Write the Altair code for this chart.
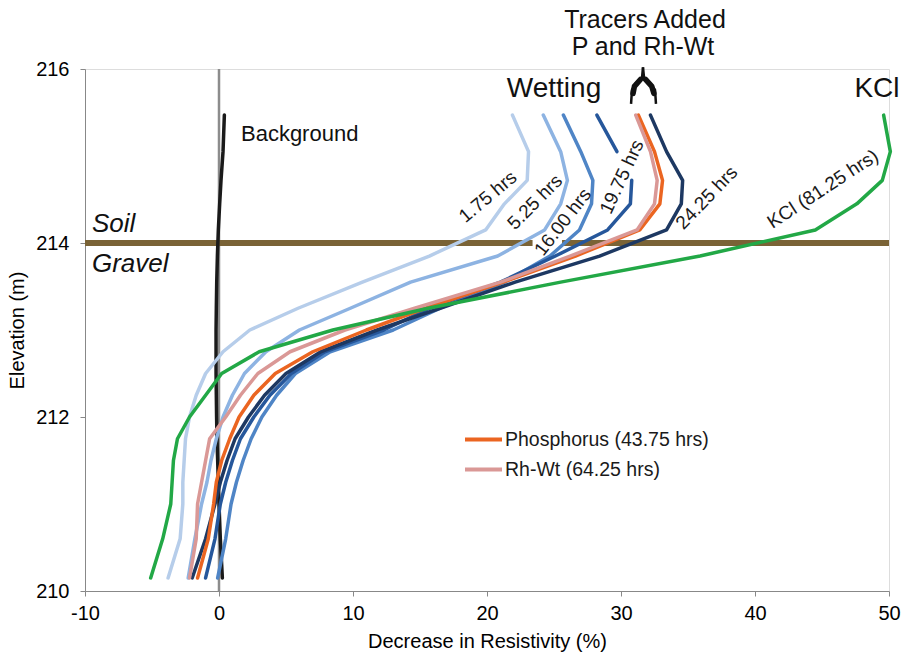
import altair as alt
import pandas as pd

# ---------------- data ----------------
elevation = [215.47, 215.05, 214.72, 214.45, 214.15, 213.85, 213.55, 213.25, 213.0,
             212.75, 212.5, 212.25, 212.0, 211.75, 211.5, 211.25, 211.0, 210.6, 210.15]

background = [0.4, 0.3, 0.15, 0.05, -0.05, -0.12, -0.17, -0.2, -0.22, -0.22, -0.22,
              -0.2, -0.18, -0.15, -0.1, -0.05, 0.0, 0.1, 0.25]
wet_175 = [21.9, 23.1, 23.0, 21.3, 19.9, 15.7, 10.7, 5.9, 2.3, 0.3, -1.0, -1.7, -2.2,
           -2.5, -2.6, -2.7, -2.7, -2.9, -3.8]
wet_525 = [24.2, 25.5, 26.0, 25.5, 24.3, 20.8, 14.3, 9.8, 6.0, 3.5, 1.9, 1.0, 0.3,
           -0.2, -0.6, -0.9, -1.3, -1.8, -2.3]
wet_1600 = [25.7, 27.0, 27.9, 27.8, 26.9, 24.7, 21.3, 16.5, 13.0, 8.3, 5.7, 4.3, 3.2,
            2.4, 1.8, 1.3, 0.9, 0.5, -0.1]
wet_1975 = [28.2, 29.7, 30.8, 30.7, 29.0, 25.1, 21.0, 15.7, 12.3, 7.9, 5.4, 3.8, 2.6,
            1.6, 1.0, 0.5, 0.1, -0.3, -1.0]
wet_2425 = [32.2, 33.4, 34.6, 34.5, 33.4, 28.4, 22.1, 16.5, 11.8, 7.6, 5.0, 3.4, 2.2,
            1.2, 0.6, 0.1, -0.3, -1.0, -2.0]
phosphorus = [31.3, 32.5, 33.1, 32.9, 31.4, 26.6, 21.2, 15.4, 11.0, 7.0, 4.2, 2.6, 1.5,
              0.8, 0.2, -0.2, -0.4, -0.8, -1.6]
rh_wt = [31.1, 32.2, 32.7, 32.5, 31.2, 26.2, 21.0, 14.6, 9.4, 5.3, 2.9, 1.6, 0.5,
         -0.7, -1.0, -1.3, -1.6, -1.7, -2.2]
kcl = [49.6, 50.1, 49.5, 47.6, 44.5, 35.9, 25.5, 15.6, 8.5, 3.0, 0.2, -1.0, -2.2,
       -3.1, -3.4, -3.5, -3.6, -4.2, -5.1]

series_names = ["Background", "1.75 hrs", "5.25 hrs", "16.00 hrs", "19.75 hrs",
                "24.25 hrs", "Phosphorus (43.75 hrs)", "Rh-Wt (64.25 hrs)", "KCl (81.25 hrs)"]
series_values = [background, wet_175, wet_525, wet_1600, wet_1975, wet_2425,
                 phosphorus, rh_wt, kcl]
series_colors = ["#1a1a1a", "#b6cdea", "#8db3e2", "#4f85c6", "#26579b", "#1d3862",
                 "#eb6521", "#da9896", "#22a846"]
legend_entries = ["Phosphorus (43.75 hrs)", "Rh-Wt (64.25 hrs)"]

# 19.75 hrs line is interrupted (label sits in the gap) after this point index
gap_series = "19.75 hrs"
gap_after = 1

x_ticks = [-10, 0, 10, 20, 30, 40, 50]
y_ticks = [210, 212, 214, 216]

# soil/gravel boundary (with a white gap behind the "16.00 hrs" label)
boundary_elev = 214
boundary_start = [-10, 25.6]
boundary_end = [23.4, 50]

# curve labels
curve_label_text = ["1.75 hrs", "5.25 hrs", "16.00 hrs", "19.75 hrs", "24.25 hrs", "KCl (81.25 hrs)"]
curve_label_x = [20.07, 23.58, 25.67, 30.07, 36.4, 45.07]
curve_label_y = [214.53, 214.47, 214.24, 214.76, 214.52, 214.62]
curve_label_angle = [320, 315, 308, 295, 314, 327]

# big header labels
header_text = ["Wetting", "KCl"]
header_x = [25.0, 49.1]
header_y = [215.68, 215.68]
tracer_text = ["Tracers Added", "P and Rh-Wt"]
tracer_x = [31.79, 31.64]
tracer_y = [216.47, 216.16]

layer_text = ["Soil", "Gravel"]
layer_x = [-9.48, -9.48]
layer_y = [214.13, 213.67]

bg_text = ["Background"]
bg_x = [1.64]
bg_y = [215.17]

# bracket symbol marking when tracers were added
bracket_branch = ["L", "L", "L", "L", "L", "R", "R", "R", "R", "R"]
bracket_x = [31.64, 31.57, 31.12, 30.82, 30.75, 31.64, 31.72, 32.16, 32.54, 32.61]
bracket_y = [216.02, 215.90, 215.84, 215.76, 215.60, 216.02, 215.90, 215.84, 215.76, 215.60]
shoulder_branch = ["L", "L", "L", "R", "R", "R"]
shoulder_x = [31.45, 31.0, 30.9, 31.83, 32.3, 32.45]
shoulder_y = [215.88, 215.80, 215.72, 215.88, 215.80, 215.72]

# ---------------- tables ----------------
rows = []
for name, vals in zip(series_names, series_values):
    for i, (e, v) in enumerate(zip(elevation, vals)):
        seg = 1 if (name == gap_series and i > gap_after) else 0
        rows.append({"series": name, "elev": e, "value": v, "ord": i, "seg": seg})
df = pd.DataFrame(rows)

boundary_df = pd.DataFrame({"x": boundary_start, "x2": boundary_end,
                            "y": [boundary_elev] * len(boundary_start)})
curve_lab_df = pd.DataFrame({"text": curve_label_text, "x": curve_label_x,
                             "y": curve_label_y, "angle": curve_label_angle})
header_df = pd.DataFrame({"text": header_text, "x": header_x, "y": header_y})
tracer_df = pd.DataFrame({"text": tracer_text, "x": tracer_x, "y": tracer_y})
layer_df = pd.DataFrame({"text": layer_text, "x": layer_x, "y": layer_y})
bg_df = pd.DataFrame({"text": bg_text, "x": bg_x, "y": bg_y})
bracket_df = pd.DataFrame({"b": bracket_branch, "x": bracket_x, "y": bracket_y,
                           "o": list(range(len(bracket_x)))})
shoulder_df = pd.DataFrame({"b": shoulder_branch, "x": shoulder_x, "y": shoulder_y,
                            "o": list(range(len(shoulder_x)))})

FONT = "Liberation Sans"
xscale = alt.Scale(domain=[-10, 50], nice=False, zero=False)
yscale = alt.Scale(domain=[210, 216], nice=False, zero=False)

x_axis = alt.Axis(values=x_ticks, title="Decrease in Resistivity (%)", grid=False,
                  labelExpr="'' + datum.value", labelFlush=False,
                  labelFontSize=20, titleFontSize=20, labelPadding=7, titlePadding=8,
                  titleFontWeight="normal")
y_axis = alt.Axis(values=y_ticks, title="Elevation (m)", grid=False, labelFlush=False,
                  labelFontSize=20, titleFontSize=20, labelPadding=11, titlePadding=8,
                  titleFontWeight="normal")

X = lambda f="x": alt.X(f"{f}:Q", scale=xscale, axis=x_axis)
Y = lambda f="y": alt.Y(f"{f}:Q", scale=yscale, axis=y_axis)

zero_line = alt.Chart(pd.DataFrame({"x": [0]})).mark_rule(
    color="#8c8c8c", strokeWidth=2.5).encode(x=X())

boundary = alt.Chart(boundary_df).mark_rule(color="#7a6336", strokeWidth=6).encode(
    x=X(), x2="x2:Q", y=Y())

lines = alt.Chart(df).mark_line(strokeWidth=3.5, strokeJoin="round", strokeCap="round").encode(
    x=X("value"),
    y=Y("elev"),
    color=alt.Color("series:N",
                    scale=alt.Scale(domain=series_names, range=series_colors),
                    legend=alt.Legend(title=None, values=legend_entries, orient="none",
                                      legendX=378, legendY=350, symbolType="stroke",
                                      symbolSize=1369, symbolStrokeWidth=4,
                                      labelFontSize=19.5, labelFont=FONT, labelColor="#1a1a1a",
                                      labelOffset=1, rowPadding=-5, padding=0,
                                      labelLimit=0)),
    detail="seg:N",
    order="ord:Q",
)

curve_labels = alt.Chart(curve_lab_df).mark_text(
    font=FONT, fontSize=19, color="#1a1a1a", align="center", baseline="middle").encode(
    x=X(), y=Y(), text="text:N", angle=alt.Angle("angle:Q", scale=None))

headers = alt.Chart(header_df).mark_text(
    font=FONT, fontSize=28, color="#111111", align="center", baseline="alphabetic").encode(
    x=X(), y=Y(), text="text:N")

tracers = alt.Chart(tracer_df).mark_text(
    font=FONT, fontSize=25, color="#111111", align="center", baseline="alphabetic").encode(
    x=X(), y=Y(), text="text:N")

layers_lab = alt.Chart(layer_df).mark_text(
    font=FONT, fontSize=26, fontStyle="italic", color="#111111", align="left",
    baseline="alphabetic").encode(x=X(), y=Y(), text="text:N")

bg_lab = alt.Chart(bg_df).mark_text(
    font=FONT, fontSize=22, color="#111111", align="left", baseline="alphabetic").encode(
    x=X(), y=Y(), text="text:N")

bracket = alt.Chart(bracket_df).mark_line(color="#111111", strokeWidth=2.5,
                                          strokeJoin="round").encode(
    x=X(), y=Y(), detail="b:N", order="o:Q")
shoulder = alt.Chart(shoulder_df).mark_line(color="#111111", strokeWidth=5.5,
                                            strokeCap="round", strokeJoin="round").encode(
    x=X(), y=Y(), detail="b:N", order="o:Q")

chart = alt.layer(zero_line, boundary, lines, curve_labels, headers, tracers, layers_lab,
                  bg_lab, bracket, shoulder).properties(
    width=804, height=522,
    autosize=alt.AutoSizeParams(type="none"),
    padding={"left": 85, "top": 69, "right": 14, "bottom": 65},
).configure_view(stroke=None).configure_axis(
    domainColor="#8c8c8c", domainWidth=2.5, tickColor="#8c8c8c", tickWidth=2,
    tickSize=6, labelFont=FONT, titleFont=FONT, labelColor="#1a1a1a",
    titleColor="#1a1a1a",
).configure(background="white")

chart.save("out.html", embed_options={"renderer": "svg", "actions": False})
